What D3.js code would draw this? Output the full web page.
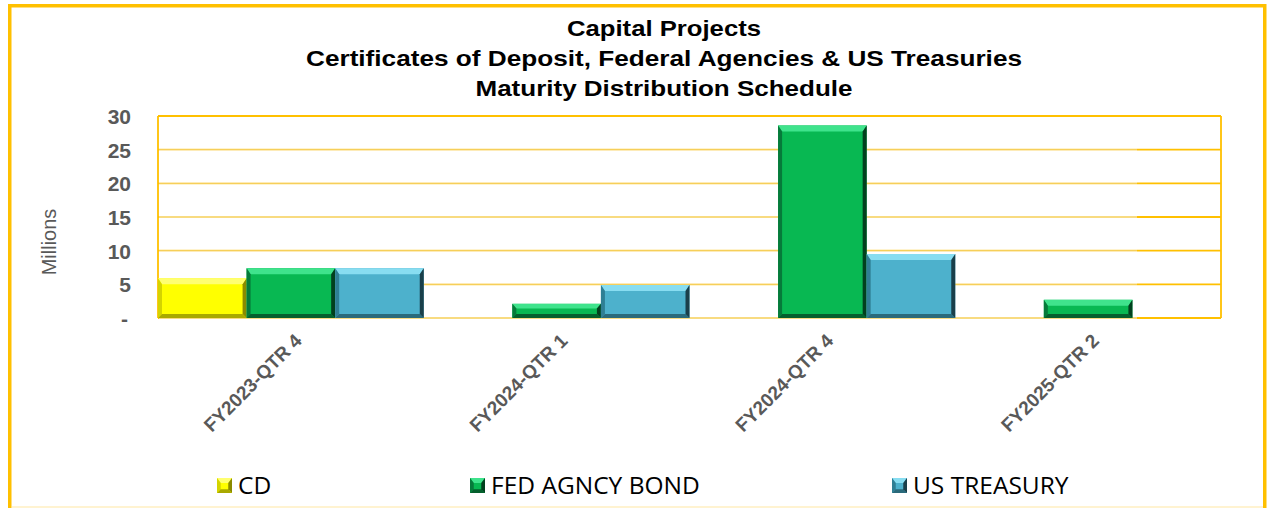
<!DOCTYPE html>
<html><head><meta charset="utf-8">
<script src="https://cdn.jsdelivr.net/npm/d3@7"></script>
<style>html,body{margin:0;padding:0;background:#fff;}svg{display:block;font-family:'Liberation Sans',Arial,sans-serif;}</style>
</head><body>
<svg id="chart" width="1268" height="508"></svg>
<script>
const categories = ["FY2023-QTR 4", "FY2024-QTR 1", "FY2024-QTR 4", "FY2025-QTR 2"];
const seriesNames = ["CD", "FED AGNCY BOND", "US TREASURY"];
const cdValues = [5.9, 0, 0, 0];
const fedValues = [7.4, 2.1, 28.6, 2.7];
const treasuryValues = [7.4, 4.9, 9.5, 0];
const yTicks = [0, 5, 10, 15, 20, 25, 30];
const titleLines = ["Capital Projects", "Certificates of Deposit, Federal Agencies & US Treasuries", "Maturity Distribution Schedule"];

(function () {
const palette = {
  "CD": {main:"#FFFF00", top:"#FFFF70", left:"#D4D400", right:"#8A8A00", bottom:"#A9A900"},
  "FED AGNCY BOND": {main:"#08B852", top:"#3FE38C", left:"#067A3A", right:"#02401E", bottom:"#055F2D"},
  "US TREASURY": {main:"#4DB1CC", top:"#88DDF1", left:"#2F7F94", right:"#1A3F4A", bottom:"#2A6A7B"}
};
const seriesValues = [cdValues, fedValues, treasuryValues];
const titleWidths = [194, 716, 377];

const svg = d3.select("#chart");
const pL = 158, pR = 1221, pT = 116, pB = 318, innerR = 1137;
const gold = "#FFC000";

// outer frame
svg.append("rect").attr("x", 9.75).attr("y", 5.75).attr("width", 1255).attr("height", 520)
  .attr("fill", "none").attr("stroke", gold).attr("stroke-width", 3.5);
svg.append("line").attr("x1", 12).attr("x2", 1263).attr("y1", 507).attr("y2", 507)
  .attr("stroke", "#FFEFC2").attr("stroke-width", 1.5);

// title
svg.append("g").selectAll("text").data(titleLines).join("text")
  .attr("x", 664).attr("y", (d, i) => 36 + i * 30)
  .attr("text-anchor", "middle")
  .attr("textLength", (d, i) => titleWidths[i]).attr("lengthAdjust", "spacingAndGlyphs")
  .style("font-family", "'Liberation Sans', Arial, sans-serif")
  .attr("font-weight", "bold").attr("font-size", 22).attr("fill", "#000")
  .text(d => d);

const y = d3.scaleLinear().domain([0, 30]).range([pB, pT]);
const x0 = d3.scaleBand().domain(categories).range([pL, pR]).padding(0);
const x1 = d3.scaleBand().domain(seriesNames).range([0, x0.bandwidth()]).padding(0);

// gridlines
svg.append("g").selectAll("line").data(yTicks).join("line")
  .attr("x1", pL).attr("x2", pR)
  .attr("y1", d => y(d)).attr("y2", d => y(d))
  .attr("stroke", gold).attr("stroke-width", 1.8);
svg.append("g").selectAll("line").data(yTicks.filter(t => t !== 30)).join("line")
  .attr("x1", pL + 1).attr("x2", innerR)
  .attr("y1", d => y(d)).attr("y2", d => y(d))
  .attr("stroke", "#FFFDF7").attr("stroke-width", 2)
  .clone(true).attr("stroke", "#F6CF5A").attr("stroke-width", 1.4);
svg.append("line").attr("x1", pL).attr("x2", pL).attr("y1", pT).attr("y2", pB)
  .attr("stroke", gold).attr("stroke-width", 1.8);
svg.append("line").attr("x1", pR).attr("x2", pR).attr("y1", pT).attr("y2", pB)
  .attr("stroke", gold).attr("stroke-width", 1.8);

// y axis
const yAxis = d3.axisLeft(y).tickValues(yTicks).tickSize(0).tickPadding(0)
  .tickFormat(d => d === 0 ? "-" : d);
const yg = svg.append("g").attr("transform", "translate(131,0)").call(yAxis);
yg.select(".domain").remove();
yg.selectAll("text").style("font-family", "'Liberation Sans', Arial, sans-serif")
  .attr("font-weight", "bold").attr("font-size", 21).attr("fill", "#595959")
  .attr("dy", "0.35em").attr("dx", d => d === 0 ? -3 : 0);

svg.append("text").attr("transform", "translate(56,242) rotate(-90)")
  .attr("text-anchor", "middle")
  .style("font-family", "'Liberation Sans', Arial, sans-serif")
  .attr("font-size", 20).attr("fill", "#595959").text("Millions");

// bars with bevel
function bevelBar(g, bx, by, w, h, c) {
  if (h <= 0) return;
  const bt = Math.min(6, h / 3), bs = Math.min(4, w / 4);
  g.append("rect").attr("x", bx).attr("y", by).attr("width", w).attr("height", h).attr("fill", c.main);
  const poly = (pts, f) => g.append("polygon").attr("points", pts.map(p => p.join(",")).join(" ")).attr("fill", f);
  poly([[bx, by], [bx + w, by], [bx + w - bs, by + bt], [bx + bs, by + bt]], c.top);
  poly([[bx, by], [bx + bs, by + bt], [bx + bs, by + h - bs], [bx, by + h]], c.left);
  poly([[bx, by + h], [bx + bs, by + h - bs], [bx + w - bs, by + h - bs], [bx + w, by + h]], c.bottom);
  poly([[bx + w, by], [bx + w, by + h], [bx + w - bs, by + h - bs], [bx + w - bs, by + bt]], c.right);
}
const barsG = svg.append("g");
categories.forEach((cat, ci) => {
  seriesNames.forEach((s, si) => {
    const v = seriesValues[si][ci];
    if (!v) return;
    const bx = x0(cat) + x1(s);
    bevelBar(barsG, bx, y(v), x1.bandwidth(), y(0) - y(v), palette[s]);
  });
});

// x axis labels
const xg = svg.append("g");
xg.selectAll("text").data(categories).join("text")
  .attr("transform", d => `translate(${x0(d) + x0.bandwidth() / 2 + 12},${pB + 24}) rotate(-45)`)
  .attr("text-anchor", "end")
  .style("font-family", "'Liberation Sans', Arial, sans-serif")
  .attr("font-weight", "bold").attr("font-size", 19).attr("fill", "#595959")
  .text(d => d);

// legend
const legendX = [217, 470, 892];
const lg = svg.append("g");
seriesNames.forEach((s, i) => {
  const g = lg.append("g");
  bevelBar(g, legendX[i], 478, 15, 15, palette[s]);
  g.append("text").attr("x", legendX[i] + 21).attr("y", 494)
    .style("font-family", "'Liberation Sans Narrow', 'Open Sans', sans-serif")
    .attr("font-size", 24.5).attr("fill", "#000").text(s);
});
})();
</script>
</body></html>
